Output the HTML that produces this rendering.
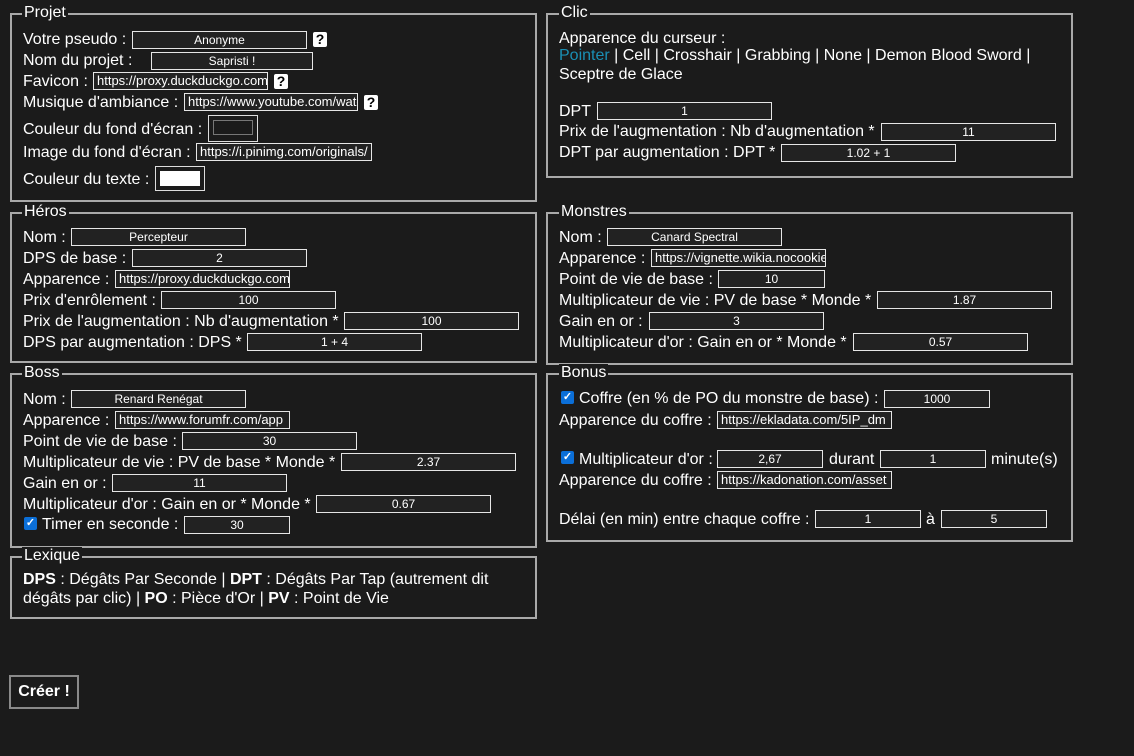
<!DOCTYPE html>
<html><head><meta charset="utf-8"><style>
html,body{margin:0;padding:0;background:#1b1b1b;width:1134px;height:756px;overflow:hidden;font-family:"Liberation Sans",Arial,sans-serif;color:#fff}
.f{position:absolute;border:2px solid #a9a9a9;box-sizing:border-box}
.lg{position:absolute;background:#1b1b1b;font-size:16px;line-height:18px;padding:0 2px}
.l{position:absolute;font-size:16px;line-height:18px;white-space:nowrap;margin-top:1px}
.i{position:absolute;height:18px;box-sizing:border-box;border:1px solid #e6e6e6;background:#222;font-size:12px;line-height:16px;text-align:center;overflow:hidden;white-space:nowrap;font-weight:normal;color:#fff}
.u{text-align:left;padding-left:3px;font-size:13px}
.q{position:absolute;width:14px;height:15px;background:#fff;color:#000;font-weight:bold;font-size:14px;line-height:15px;text-align:center;border-radius:2px}
.cb{position:absolute;width:13px;height:13px;background:#0b6fd8;border-radius:2px;color:#fff;font-size:11px;line-height:13px;text-align:center;font-weight:bold}
b{font-weight:bold}
</style></head><body>

<!-- Projet -->
<div class="f" style="left:10px;top:13px;width:527px;height:189px"></div>
<div class="lg" style="left:22px;top:4px">Projet</div>
<div class="l" style="left:23px;top:30px">Votre pseudo :</div><div class="i" style="left:132px;top:31px;width:175px">Anonyme</div><div class="q" style="left:313px;top:32px">?</div>
<div class="l" style="left:23px;top:51px">Nom du projet :</div><div class="i" style="left:151px;top:52px;width:162px">Sapristi !</div>
<div class="l" style="left:23px;top:72px">Favicon :</div><div class="i u" style="left:93px;top:72px;width:175px">https://proxy.duckduckgo.com</div><div class="q" style="left:274px;top:74px">?</div>
<div class="l" style="left:23px;top:93px">Musique d'ambiance :</div><div class="i u" style="left:184px;top:93px;width:174px">https://www.youtube.com/watch</div><div class="q" style="left:364px;top:95px">?</div>
<div class="l" style="left:23px;top:120px">Couleur du fond d'écran :</div><div style="position:absolute;left:208px;top:115px;width:50px;height:27px;border:1px solid #ddd;box-sizing:border-box"><div style="position:absolute;left:4px;top:4px;width:40px;height:15px;border:1px solid #777;box-sizing:border-box;background:#1b1b1b"></div></div>
<div class="l" style="left:23px;top:143px">Image du fond d'écran :</div><div class="i u" style="left:196px;top:143px;width:176px">https://i.pinimg.com/originals/</div>
<div class="l" style="left:23px;top:170px">Couleur du texte :</div><div style="position:absolute;left:155px;top:166px;width:50px;height:25px;border:1px solid #ddd;box-sizing:border-box"><div style="position:absolute;left:4px;top:4px;width:40px;height:15px;background:#fff"></div></div>

<!-- Clic -->
<div class="f" style="left:546px;top:13px;width:527px;height:165px"></div>
<div class="lg" style="left:559px;top:4px">Clic</div>
<div class="l" style="left:559px;top:29px">Apparence du curseur :</div>
<div class="l" style="left:559px;top:46px"><span style="color:#1a8fb4">Pointer</span> | Cell | Crosshair | Grabbing | None | Demon Blood Sword |</div>
<div class="l" style="left:559px;top:65px">Sceptre de Glace</div>
<div class="l" style="left:559px;top:102px">DPT</div><div class="i" style="left:597px;top:102px;width:175px">1</div>
<div class="l" style="left:559px;top:122px">Prix de l'augmentation : Nb d'augmentation *</div><div class="i" style="left:881px;top:123px;width:175px">11</div>
<div class="l" style="left:559px;top:143px">DPT par augmentation : DPT *</div><div class="i" style="left:781px;top:144px;width:175px">1.02 + 1</div>

<!-- Heros -->
<div class="f" style="left:10px;top:212px;width:527px;height:151px"></div>
<div class="lg" style="left:22px;top:203px">Héros</div>
<div class="l" style="left:23px;top:228px">Nom :</div><div class="i" style="left:71px;top:228px;width:175px">Percepteur</div>
<div class="l" style="left:23px;top:249px">DPS de base :</div><div class="i" style="left:132px;top:249px;width:175px">2</div>
<div class="l" style="left:23px;top:270px">Apparence :</div><div class="i u" style="left:115px;top:270px;width:175px">https://proxy.duckduckgo.com</div>
<div class="l" style="left:23px;top:291px">Prix d'enrôlement :</div><div class="i" style="left:161px;top:291px;width:175px">100</div>
<div class="l" style="left:23px;top:312px">Prix de l'augmentation : Nb d'augmentation *</div><div class="i" style="left:344px;top:312px;width:175px">100</div>
<div class="l" style="left:23px;top:333px">DPS par augmentation : DPS *</div><div class="i" style="left:247px;top:333px;width:175px">1 + 4</div>

<!-- Monstres -->
<div class="f" style="left:546px;top:212px;width:527px;height:153px"></div>
<div class="lg" style="left:559px;top:203px">Monstres</div>
<div class="l" style="left:559px;top:228px">Nom :</div><div class="i" style="left:607px;top:228px;width:175px">Canard Spectral</div>
<div class="l" style="left:559px;top:249px">Apparence :</div><div class="i u" style="left:651px;top:249px;width:175px">https://vignette.wikia.nocookie</div>
<div class="l" style="left:559px;top:270px">Point de vie de base :</div><div class="i" style="left:718px;top:270px;width:107px">10</div>
<div class="l" style="left:559px;top:291px">Multiplicateur de vie : PV de base * Monde *</div><div class="i" style="left:877px;top:291px;width:175px">1.87</div>
<div class="l" style="left:559px;top:312px">Gain en or :</div><div class="i" style="left:649px;top:312px;width:175px">3</div>
<div class="l" style="left:559px;top:333px">Multiplicateur d'or : Gain en or * Monde *</div><div class="i" style="left:853px;top:333px;width:175px">0.57</div>

<!-- Boss -->
<div class="f" style="left:10px;top:373px;width:527px;height:175px"></div>
<div class="lg" style="left:22px;top:364px">Boss</div>
<div class="l" style="left:23px;top:390px">Nom :</div><div class="i" style="left:71px;top:390px;width:175px">Renard Renégat</div>
<div class="l" style="left:23px;top:411px">Apparence :</div><div class="i u" style="left:115px;top:411px;width:175px">https://www.forumfr.com/app</div>
<div class="l" style="left:23px;top:432px">Point de vie de base :</div><div class="i" style="left:182px;top:432px;width:175px">30</div>
<div class="l" style="left:23px;top:453px">Multiplicateur de vie : PV de base * Monde *</div><div class="i" style="left:341px;top:453px;width:175px">2.37</div>
<div class="l" style="left:23px;top:474px">Gain en or :</div><div class="i" style="left:112px;top:474px;width:175px">11</div>
<div class="l" style="left:23px;top:495px">Multiplicateur d'or : Gain en or * Monde *</div><div class="i" style="left:316px;top:495px;width:175px">0.67</div>
<div class="cb" style="left:24px;top:517px">✓</div><div class="l" style="left:42px;top:515px">Timer en seconde :</div><div class="i" style="left:184px;top:516px;width:106px">30</div>

<!-- Bonus -->
<div class="f" style="left:546px;top:373px;width:527px;height:169px"></div>
<div class="lg" style="left:559px;top:364px">Bonus</div>
<div class="cb" style="left:561px;top:391px">✓</div><div class="l" style="left:579px;top:389px">Coffre (en % de PO du monstre de base) :</div><div class="i" style="left:884px;top:390px;width:106px">1000</div>
<div class="l" style="left:559px;top:411px">Apparence du coffre :</div><div class="i u" style="left:717px;top:411px;width:175px">https://ekladata.com/5IP_dm</div>
<div class="cb" style="left:561px;top:451px">✓</div><div class="l" style="left:579px;top:450px">Multiplicateur d'or :</div><div class="i" style="left:717px;top:450px;width:106px">2,67</div><div class="l" style="left:829px;top:450px">durant</div><div class="i" style="left:880px;top:450px;width:106px">1</div><div class="l" style="left:991px;top:450px">minute(s)</div>
<div class="l" style="left:559px;top:471px">Apparence du coffre :</div><div class="i u" style="left:717px;top:471px;width:175px">https://kadonation.com/asset</div>
<div class="l" style="left:559px;top:510px">Délai (en min) entre chaque coffre :</div><div class="i" style="left:815px;top:510px;width:106px">1</div><div class="l" style="left:926px;top:510px">à</div><div class="i" style="left:941px;top:510px;width:106px">5</div>

<!-- Lexique -->
<div class="f" style="left:10px;top:556px;width:527px;height:63px"></div>
<div class="lg" style="left:22px;top:547px">Lexique</div>
<div class="l" style="left:23px;top:570px"><b>DPS</b> : Dégâts Par Seconde | <b>DPT</b> : Dégâts Par Tap (autrement dit</div>
<div class="l" style="left:23px;top:589px">dégâts par clic) | <b>PO</b> : Pièce d'Or | <b>PV</b> : Point de Vie</div>

<div style="position:absolute;left:9px;top:675px;width:70px;height:34px;border:2px solid #8a8a8a;box-sizing:border-box;background:#1b1b1b;font-weight:bold;font-size:16px;line-height:30px;text-align:center">Créer !</div>
</body></html>
